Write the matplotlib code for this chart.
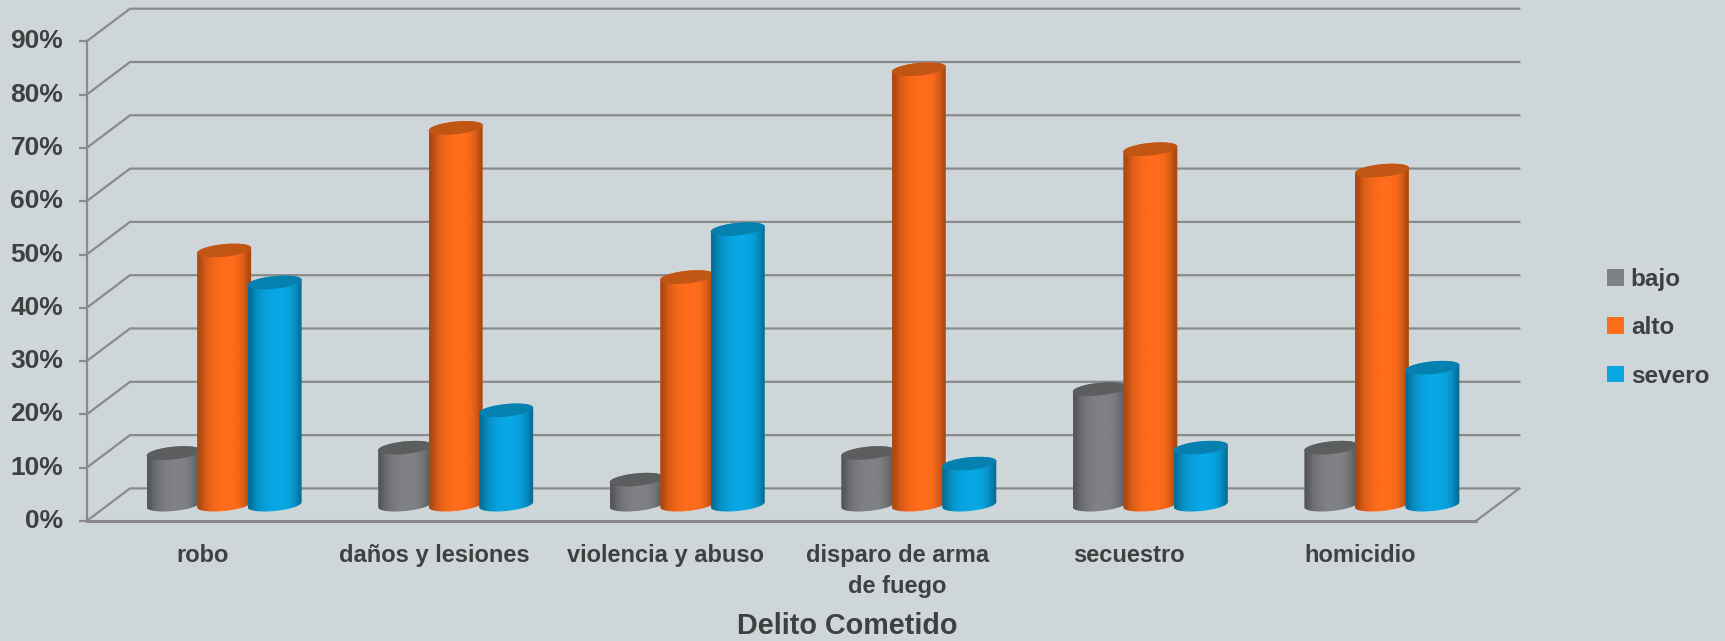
import numpy as np
import matplotlib
matplotlib.use('Agg')
import matplotlib.pyplot as plt
from matplotlib.patches import Patch, Polygon
from matplotlib.path import Path
from matplotlib.transforms import Affine2D

categorias = ['robo', 'daños y lesiones', 'violencia y abuso',
              'disparo de arma\nde fuego', 'secuestro', 'homicidio']
bajo = [10, 11, 5, 10, 22, 11]
alto = [48, 71, 43, 82, 67, 63]
severo = [42, 18, 52, 8, 11, 26]
series = ['bajo', 'alto', 'severo']
y_ticks = [0, 10, 20, 30, 40, 50, 60, 70, 80, 90]

colores = ['#808184', '#FF6C1B', '#08A7E4']
tapas = ['#5C5D5F', '#C05514', '#0680AE']
fondo = '#CED6D9'
linea = '#8A8A8A'
texto = '#404040'

plt.rcParams['font.family'] = ['Liberation Sans', 'DejaVu Sans']
plt.rcParams['font.weight'] = 'bold'

W, H = 1725, 641
fig = plt.figure(figsize=(W / 100, H / 100), dpi=100, facecolor=fondo)
# front plane of the box, in pixels: x 86.7-1476, y 41.3-521
ax = fig.add_axes([86.7 / W, 1 - 521 / H, (1476 - 86.7) / W, (521 - 41.3) / H], facecolor='none')
ax.patch.set_visible(False)
for s in ax.spines.values():
    s.set_visible(False)

# depth of the fake 3d box in data units
dx = 43.3 / 231.5
dy = 32.6 / 5.33
x0, x1 = -0.5, 5.5

# walls and grid
for v in y_ticks:
    ax.plot([x0, x0 + dx, x1 + dx], [v, v + dy, v + dy], color=linea, lw=1.6, clip_on=False, zorder=1,
            solid_joinstyle='miter')
ax.plot([x1, x1 + dx], [0, dy], color=linea, lw=1.6, clip_on=False, zorder=1)
ax.plot([x0, x0], [0, 90], color=linea, lw=1.6, clip_on=False, zorder=2)
ax.plot([x0, x1], [0, 0], color=linea, lw=2.2, clip_on=False, zorder=2)

paso = 50.5 / 231.5
ancho = 54 / 231.5
b = 6.3 / 5.33
inclina = 2.6 / 5.33
sombra = np.array([0.68, 0.84, 0.92, 0.97, 1, 1, 1, 0.96, 0.86, 0.68])
t = np.linspace(0, 2 * np.pi, 121)

z = 5
for i in range(len(categorias)):
    for j, vals in enumerate([bajo, alto, severo]):
        xc = i + (j - 1) * paso + dx / 2
        # tops sit a bit lower than the base plane in the original perspective
        yt = vals[i] + dy / 2 - 0.3
        yb = dy / 2
        a = ancho / 2
        # outline: lower half of base + upper half of top
        tb = np.linspace(np.pi, 2 * np.pi, 60)
        tt = np.linspace(0, np.pi, 60)
        px = np.r_[xc + a * np.cos(tb), xc + a * np.cos(tt)]
        py = np.r_[yb + b * np.sin(tb) + inclina * np.cos(tb), yt + b * np.sin(tt) + inclina * np.cos(tt)]
        base = np.array(matplotlib.colors.to_rgb(colores[j]))
        grad = (sombra[:, None] * base)[None, :, :]
        im = ax.imshow(grad, extent=(xc - a, xc + a, yb - 3, yt + 3), aspect='auto',
                       interpolation='bilinear', zorder=z)
        im.set_clip_path(Path(np.c_[px, py]), transform=ax.transData)
        ax.add_patch(Polygon(np.c_[xc + a * np.cos(t), yt + b * np.sin(t) + inclina * np.cos(t)],
                             closed=True, fc=tapas[j], ec='none', zorder=z + 0.5))
        z += 1

ax.set_xlim(x0, x1)
ax.set_ylim(0, 90)

ax.set_yticks(y_ticks)
ax.set_yticklabels([f'{v}%' for v in y_ticks], fontsize=19, color=texto)
ax.tick_params(axis='y', length=5.8, width=1.6, color=linea, pad=11)
for lbl in ax.get_yticklabels():
    lbl.set_transform(lbl.get_transform() + Affine2D().translate(0, 2.5))
ax.set_xticks(range(len(categorias)))
ax.set_xticklabels(categorias, fontsize=17, color=texto, linespacing=1.43)
ax.tick_params(axis='x', length=0, pad=16.5)

fig.text(847 / W, 1 - 626 / H, 'Delito Cometido', fontsize=20.7, color=texto, ha='center', va='center')

handles = [Patch(fc=c, ec='none', label=n) for c, n in zip(colores, series)]
fig.legend(handles=handles, loc='upper left', bbox_to_anchor=(1590 / W, 1 - 251 / H), frameon=False,
           fontsize=17.5, handlelength=0.68, handleheight=0.68, labelspacing=1.04,
           handletextpad=0.3, labelcolor=texto, borderpad=0.2)

fig.savefig('out.png', dpi=100, facecolor=fondo)
